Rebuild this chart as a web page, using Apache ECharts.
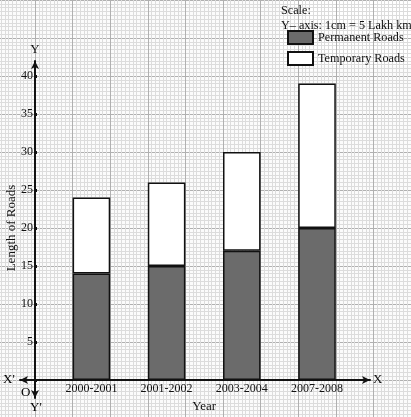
<!DOCTYPE html>
<html><head><meta charset="utf-8">
<script src="https://cdn.jsdelivr.net/npm/echarts@6/dist/echarts.min.js"></script>
<style>html,body{margin:0;padding:0;background:#fbfbfb}#c{width:411px;height:417px}</style>
</head><body><div id="c"></div>
<script>
const categories = ['2000-2001', '2001-2002', '2003-2004', '2007-2008'];
const permanentRoads = [14, 15, 17, 20];
const temporaryRoads = [10, 11, 13, 19];
const yTicks = [0, 5, 10, 15, 20, 25, 30, 35, 40];
const seriesNames = ['Permanent Roads', 'Temporary Roads'];

const FONT = '"Liberation Serif", "DejaVu Serif", serif';
const chart = echarts.init(document.getElementById('c'), null, {renderer: 'canvas'});
const noAxis = {axisLine:{show:false}, axisTick:{show:false}, axisLabel:{show:false}};
chart.setOption({
  animation: false,
  backgroundColor: '#fbfbfb',
  textStyle: {fontFamily: FONT},
  title: {
    text: 'Scale:\nY\u2013 axis: 1cm = 5 Lakh km',
    left: 281, top: 3, padding: 0,
    textStyle: {fontFamily: FONT, fontSize: 12.2, fontWeight: 'normal', color: '#111', lineHeight: 15}
  },
  graphic: [
    {type:'rect', shape:{x:279, y:0, width:132, height:66}, style:{fill:'#fff'}, z:-1},
    {type:'text', left: 3, top: 373, z: 100, style:{text:"X'", font:'13px '+FONT, fill:'#000'}},
    {type:'text', left: 21, top: 386, z: 100, style:{text:'O', font:'13px '+FONT, fill:'#000'}},
    {type:'text', left: 30, top: 401, z: 100, style:{text:"Y'", font:'13px '+FONT, fill:'#000'}}
  ],
  legend: {
    data: seriesNames, orient: 'vertical', left: 287, top: 30, padding: 0,
    itemWidth: 25, itemHeight: 13, itemGap: 6, icon: 'rect',
    textStyle: {fontFamily: FONT, fontSize: 12.2, color: '#111', padding:[3,0,0,0]}
  },
  grid: [
    {left: -2.6, right: 0, top: 0, bottom: -1, outerBoundsMode: 'none', containLabel: false},
    {left: 53.8, right: 56.4, top: 76, bottom: 37, outerBoundsMode: 'none', containLabel: false},
    {left: 20, right: 41, top: 61, bottom: 19, outerBoundsMode: 'none', containLabel: false}
  ],
  xAxis: [
    Object.assign({type:'value', gridIndex:0, min:-1, max:10, interval:1,
      splitLine:{show:true, lineStyle:{color:'#b0b0b0', width:1}},
      minorTick:{show:false, splitNumber:10},
      minorSplitLine:{show:true, lineStyle:{color:'#dcdcdc', width:1}}}, noAxis),
    {type:'category', gridIndex:1, data: categories,
      axisLine:{show:false}, axisTick:{show:false},
      axisLabel:{margin:3, fontFamily:FONT, fontSize:12, color:'#111'},
      name:'Year', nameLocation:'middle', nameGap:20, nameMoveOverlap:false,
      nameTextStyle:{fontFamily:FONT, fontSize:13, color:'#111'}},
    {type:'value', gridIndex:2, min:-15, max:335, splitLine:{show:false},
      axisLine:{show:true, onZero:true, symbol:['arrow','arrow'], symbolSize:[6,8], lineStyle:{color:'#111', width:2}},
      axisTick:{show:false}, axisLabel:{show:false},
      name:'X', nameLocation:'end', nameGap:3, nameTextStyle:{fontFamily:FONT, fontSize:13, color:'#111'}}
  ],
  yAxis: [
    Object.assign({type:'value', gridIndex:0, min:-5, max:50, interval:5,
      splitLine:{show:true, lineStyle:{color:'#b0b0b0', width:1}},
      minorTick:{show:false, splitNumber:10},
      minorSplitLine:{show:true, lineStyle:{color:'#dcdcdc', width:1}}}, noAxis),
    {type:'value', gridIndex:1, min:yTicks[0], max:yTicks[yTicks.length-1], interval:5, offset:18.8,
      splitLine:{show:false}, axisLine:{show:false},
      axisTick:{show:true, length:2, inside:true, lineStyle:{color:'#111', width:3}},
      axisLabel:{margin:2, fontFamily:FONT, fontSize:12, color:'#111',
        formatter: v => v === 0 ? '' : String(v)},
      name:'Length of Roads', nameLocation:'middle', nameGap:17, nameMoveOverlap:false,
      nameTextStyle:{fontFamily:FONT, fontSize:13, color:'#111'}},
    {type:'value', gridIndex:2, min:-18, max:319, splitLine:{show:false},
      axisLine:{show:true, onZero:true, symbol:['arrow','arrow'], symbolSize:[6,8], lineStyle:{color:'#111', width:2}},
      axisTick:{show:false}, axisLabel:{show:false},
      name:'Y', nameLocation:'end', nameGap:5, nameTextStyle:{fontFamily:FONT, fontSize:13, color:'#111'}}
  ],
  series: [
    {name: seriesNames[0], type:'bar', xAxisIndex:1, yAxisIndex:1, stack:'roads', barWidth:'50%',
      data: permanentRoads, itemStyle:{color:'#6b6b6b', borderColor:'#111', borderWidth:1.5}},
    {name: seriesNames[1], type:'bar', xAxisIndex:1, yAxisIndex:1, stack:'roads', barWidth:'50%',
      data: temporaryRoads, itemStyle:{color:'#ffffff', borderColor:'#111', borderWidth:1.5}}
  ]
});
</script></body></html>
